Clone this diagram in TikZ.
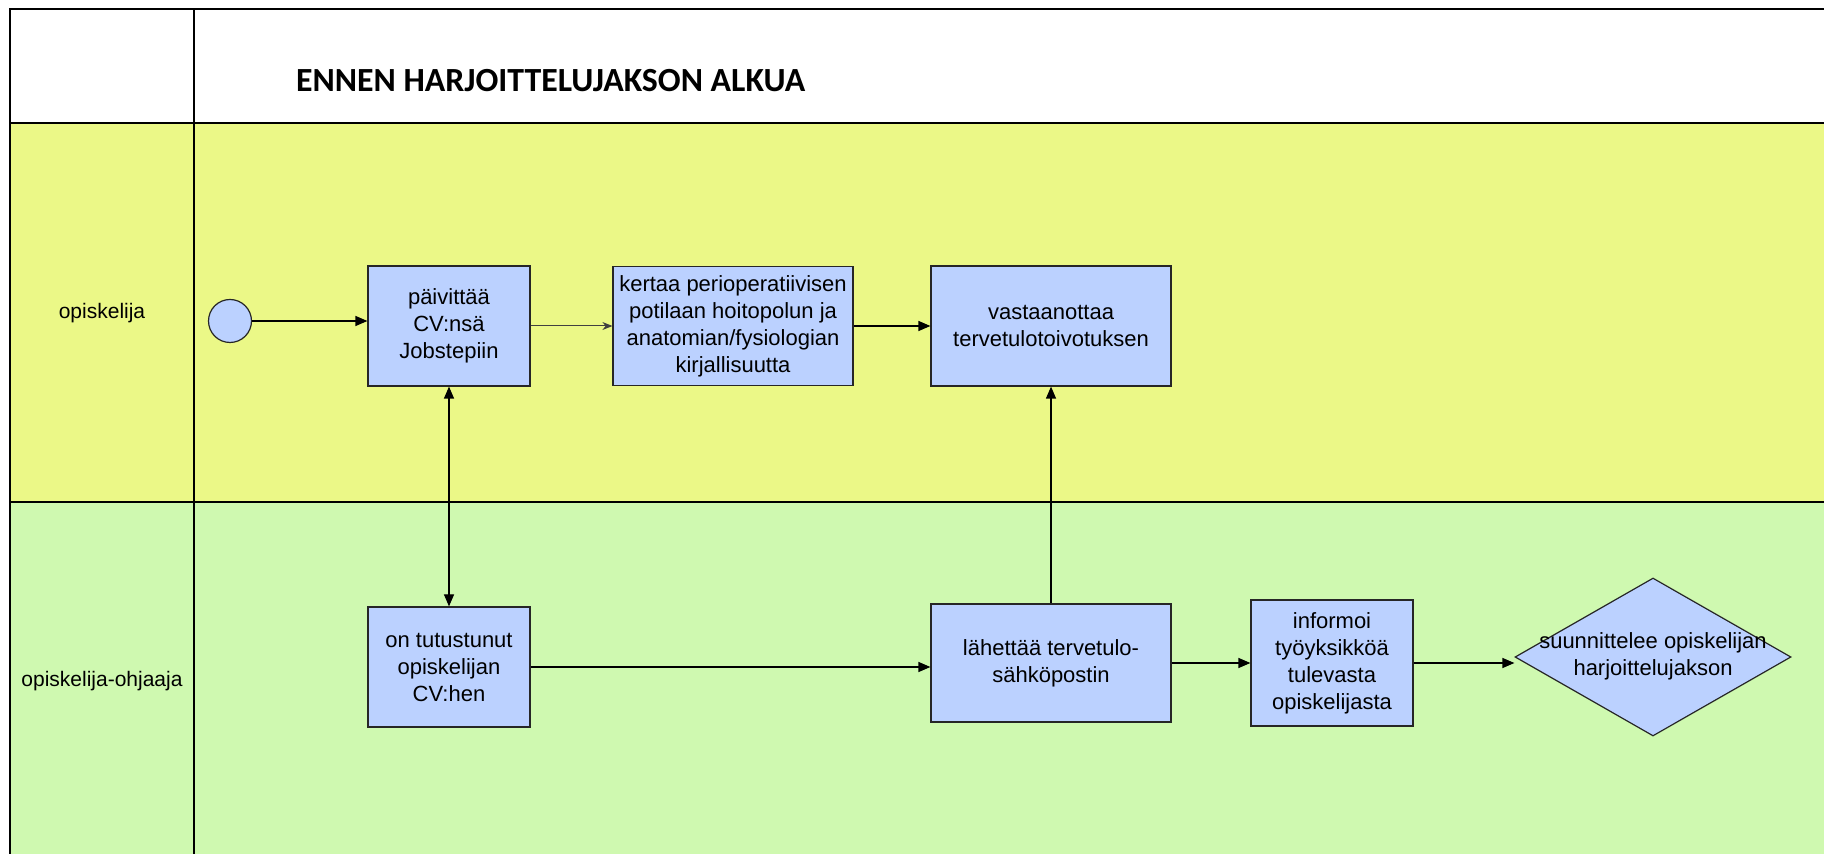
\documentclass[tikz,border=0pt]{standalone}
\usepackage{fontspec}
\setmainfont{Liberation Sans}
\newfontfamily\carlito{Carlito}
\usetikzlibrary{shapes.geometric,arrows.meta}
\definecolor{laneyellow}{RGB}{235,248,135}
\definecolor{lanegreen}{RGB}{207,249,176}
\definecolor{boxblue}{RGB}{187,209,255}
\begin{document}
\begin{tikzpicture}[x=0.5pt,y=-0.5pt,
  box/.style={draw=black!85, fill=boxblue, line width=0.6pt, align=center, inner sep=0pt, font=\fontsize{11}{13.5}\selectfont},
  lanelabel/.style={font=\fontsize{10.5}{12}\selectfont},
  frameline/.style={line width=1pt, draw=black},
  flow/.style={line width=0.6pt, draw=black, -{Triangle[length=6pt,width=5pt]}},
  biflow/.style={line width=0.6pt, draw=black, {Triangle[length=6pt,width=5pt]}-{Triangle[length=6pt,width=5pt]}},
  smallflow/.style={line width=0.5pt, draw=black!75, -{Stealth[length=5pt,width=4pt]}}
]
\useasboundingbox (0,0) rectangle (1824,854);
\fill[white] (0,0) rectangle (1824,854);
% lanes
\fill[laneyellow] (10,123) rectangle (1824,502);
\fill[lanegreen] (10,502) rectangle (1824,854);
\draw[frameline] (1824,9) -- (10,9) -- (10,854);
\draw[frameline] (194,9) -- (194,854);
\draw[frameline] (10,123) -- (1824,123);
\draw[frameline] (10,502) -- (1824,502);
% title and lane labels
\node[anchor=west, font=\carlito\bfseries\fontsize{16.9}{20}\selectfont] (title) at (289,81) {ENNEN HARJOITTELUJAKSON ALKUA};
\node[lanelabel] (lane1) at (102,313) {opiskelija};
\node[lanelabel] (lane2) at (102,681) {opiskelija-ohjaaja};
% nodes
\node[circle, draw=black!85, fill=boxblue, line width=0.6pt, minimum size=21.5pt, inner sep=0pt] (S) at (230,321) {};
\node[box, minimum width=81pt, minimum height=60pt] (A) at (449,326) {päivittää\\CV:nsä\\Jobstepiin};
\node[box, minimum width=120pt, minimum height=59.5pt] (B) at (733,326) {kertaa perioperatiivisen\\potilaan hoitopolun ja\\anatomian/fysiologian\\kirjallisuutta};
\node[box, minimum width=120pt, minimum height=60pt] (C) at (1051,326) {vastaanottaa\\tervetulotoivotuksen};
\node[box, minimum width=81pt, minimum height=60pt] (D) at (449,667) {on tutustunut\\opiskelijan\\CV:hen};
\node[box, minimum width=120pt, minimum height=59pt] (E) at (1051,663) {lähettää tervetulo-\\sähköpostin};
\node[box, minimum width=81pt, minimum height=63pt] (F) at (1332,663) {informoi\\työyksikköä\\tulevasta\\opiskelijasta};
\node[box, diamond, minimum width=138pt, minimum height=79pt] (G) at (1653,657) {\makebox[0pt][c]{\begin{tabular}{@{}c@{}}suunnittelee opiskelijan\\harjoittelujakson\end{tabular}}};
% connectors
\draw[flow] (S.east) -- (S -| A.west);
\draw[smallflow] (A.east) -- (B.west);
\draw[flow] (B.east) -- (C.west);
\draw[biflow] (A.south) -- (D.north);
\draw[flow] (E.north) -- (C.south);
\draw[flow] (D.east) -- (D.east -| E.west);
\draw[flow] (E.east) -- (F.west);
\draw[flow] (F.east) -- (F.east -| G.west);
\end{tikzpicture}
\end{document}
